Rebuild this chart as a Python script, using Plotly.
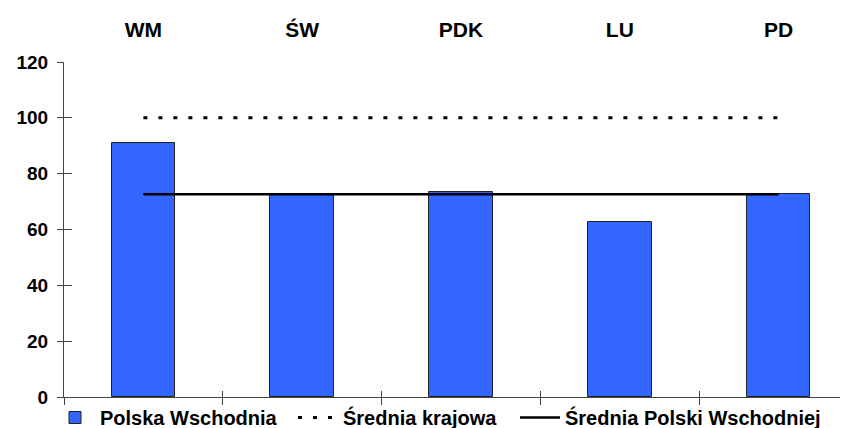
import plotly.graph_objects as go

categories = ["WM", "ŚW", "PDK", "LU", "PD"]
polska_wschodnia = [91.0, 72.3, 73.6, 62.6, 72.6]
srednia_krajowa = [100, 100, 100, 100, 100]
srednia_pw = [72.6, 72.6, 72.6, 72.6, 72.6]
y_ticks = [0, 20, 40, 60, 80, 100, 120]

xpos = list(range(len(categories)))
bounds = [i - 0.5 for i in range(len(categories))]

FONT = "Liberation Sans, Arial, sans-serif"
W, H = 840, 420  # page has an 8px body margin

fig = go.Figure()
fig.add_trace(go.Bar(
    x=xpos, y=polska_wschodnia, name="Polska Wschodnia", legend="legend",
    width=0.40, marker=dict(color="#3366FF", line=dict(color="#222222", width=1)),
))
fig.add_trace(go.Scatter(
    x=xpos, y=srednia_krajowa, name="Średnia krajowa", mode="lines", legend="legend2",
    line=dict(color="black", width=3, dash="4px,11px"),
))
fig.add_trace(go.Scatter(
    x=xpos, y=srednia_pw, name="Średnia Polski Wschodniej", mode="lines", legend="legend3",
    line=dict(color="black", width=2.5),
))
# invisible helper traces to activate overlay axes
fig.add_trace(go.Scatter(x=[xpos[0]], y=[0], xaxis="x2", yaxis="y", mode="markers",
                         marker=dict(opacity=0), showlegend=False, hoverinfo="skip"))
fig.add_trace(go.Scatter(x=[xpos[0]], y=[0], xaxis="x3", yaxis="y2", mode="markers",
                         marker=dict(opacity=0), showlegend=False, hoverinfo="skip"))


def leg(xpx):
    return dict(orientation="h", x=xpx / W, xref="container", xanchor="left",
                y=1 - 390 / H, yref="container", yanchor="top",
                font=dict(family=FONT, size=20, color="black", weight="bold"),
                bgcolor="rgba(0,0,0,0)", itemwidth=40)


xr = [-0.5, 4.437]
fig.update_layout(
    width=W, height=H,
    margin=dict(l=56, r=0, t=54, b=31),
    paper_bgcolor="white", plot_bgcolor="white",
    font=dict(family=FONT, size=19, color="black", weight="bold"),
    showlegend=True,
    bargap=0,
    xaxis=dict(range=xr, tickvals=bounds, showticklabels=False, ticks="outside",
               ticklen=7, tickcolor="#444", showline=True, linecolor="#444", linewidth=1,
               showgrid=False, zeroline=False, automargin=False),
    xaxis2=dict(range=xr, overlaying="x", side="top", tickvals=xpos, ticktext=categories,
                ticks="outside", ticklen=16, tickcolor="rgba(0,0,0,0)", showline=False,
                showgrid=False, zeroline=False, automargin=False,
                tickfont=dict(family="Liberation Sans Narrow, Liberation Sans, Arial",
                              size=21, weight="bold")),
    xaxis3=dict(range=xr, overlaying="x", side="bottom", tickvals=bounds, showticklabels=False,
                ticks="inside", ticklen=6, tickcolor="#444", showline=False,
                showgrid=False, zeroline=False, automargin=False),
    yaxis=dict(range=[0, 120], tickvals=y_ticks, ticks="outside", ticklen=6, tickcolor="#444",
               showline=True, linecolor="#444", linewidth=1, showgrid=False, zeroline=False,
               ticklabelstandoff=5, automargin=False,
               tickfont=dict(family=FONT, size=19, weight="bold")),
    yaxis2=dict(range=[0, 120], overlaying="y", tickvals=y_ticks, ticks="inside", ticklen=8,
                tickcolor="#444", showticklabels=False, showline=False, showgrid=False,
                zeroline=False, automargin=False),
    legend=leg(42),
    legend2=leg(285),
    legend3=leg(507),
)

fig.write_html("out.html")
